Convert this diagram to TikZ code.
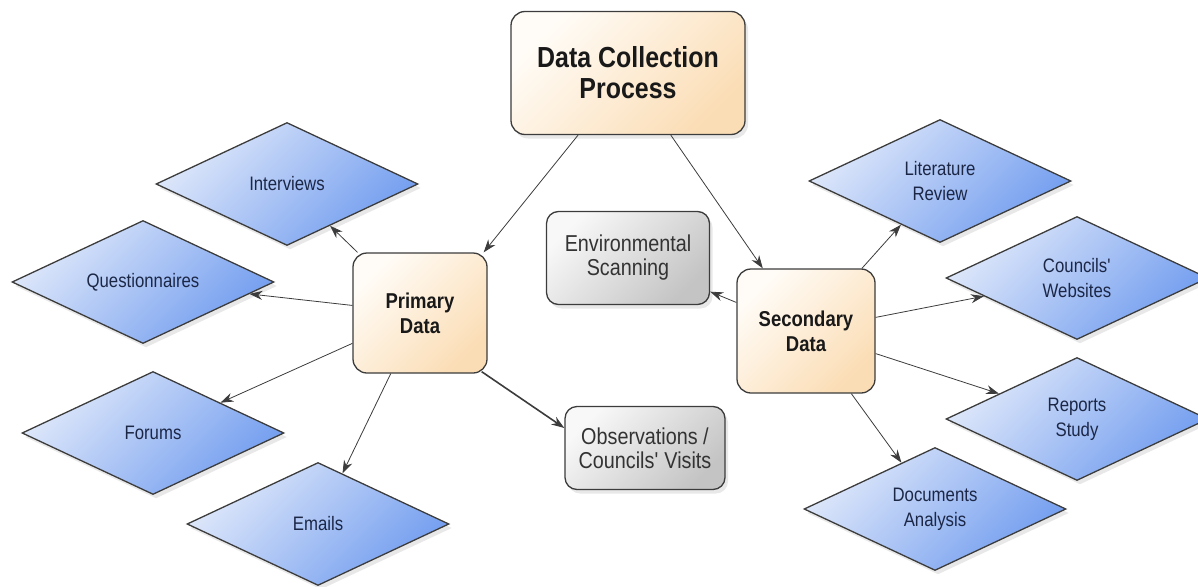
\documentclass[tikz,border=0pt]{standalone}
\usepackage{fontspec}
\setmainfont{Liberation Sans}[FakeStretch=0.86]
\usetikzlibrary{shapes.geometric,arrows.meta,shadows}

\definecolor{peachlight}{HTML}{FFFCF7}
\definecolor{peachdark}{HTML}{FBDDB5}
\definecolor{bluelight}{HTML}{DFE8FA}
\definecolor{bluedark}{HTML}{729DEF}
\definecolor{greylight}{HTML}{F8F8F8}
\definecolor{greydark}{HTML}{C4C4C4}
\definecolor{edgegrey}{HTML}{3C3C3C}
\definecolor{navytext}{HTML}{1C2746}

\tikzset{
  softshadow/.style={drop shadow={shadow xshift=3pt, shadow yshift=-4pt, opacity=0.18, fill=gray}},
  mainbox/.style={rectangle, rounded corners=14pt, draw=edgegrey, line width=1.3pt,
    top color=peachlight, bottom color=peachdark, shading angle=45,
    align=center, inner sep=0pt, text=black!90},
  greybox/.style={rectangle, rounded corners=12pt, draw=edgegrey, line width=1.3pt,
    top color=greylight, bottom color=greydark, shading angle=45, softshadow,
    align=center, inner sep=0pt, text=black!80,
    font=\fontsize{23}{24}\selectfont},
  source/.style={diamond, aspect=2.15, draw=edgegrey, line width=1.3pt,
    top color=bluelight, bottom color=bluedark, shading angle=45, softshadow,
    minimum width=262pt, minimum height=123pt, inner sep=0pt,
    align=center, text=navytext, font=\fontsize{19.5}{25}\selectfont},
  arr/.style={-{Stealth[length=13pt,width=9pt]}, draw=edgegrey, line width=0.8pt},
}

\begin{document}
\begin{tikzpicture}[x=1pt, y=-1pt]
\useasboundingbox (0,0) rectangle (1198,586);

% Main process and the two data groups
\node[mainbox, softshadow, minimum width=234pt, minimum height=123pt,
  font=\bfseries\fontsize{29}{31}\selectfont] (dcp) at (628,73) {Data Collection\\Process};
\node[mainbox, minimum width=134pt, minimum height=120pt,
  font=\bfseries\fontsize{21.5}{25}\selectfont] (pd) at (420,313) {Primary\\Data};
\node[mainbox, minimum width=138pt, minimum height=124pt,
  font=\bfseries\fontsize{21.5}{25}\selectfont] (sd) at (806,331) {Secondary\\Data};

% Grey boxes
\node[greybox, minimum width=163pt, minimum height=93pt] (env) at (628,258) {Environmental\\Scanning};
\node[greybox, minimum width=160pt, minimum height=83pt] (obs) at (645,448) {Observations /\\Councils\textquotesingle{} Visits};

% Primary sources
\node[source] (intv) at (287,184) {Interviews};
\node[source] (quest) at (143,282) {Questionnaires};
\node[source] (forum) at (153,433) {Forums};
\node[source] (mail) at (318,524) {Emails};

% Secondary sources
\node[source] (lit) at (940,181) {Literature\\Review};
\node[source] (web) at (1077,278) {Councils\textquotesingle\\Websites};
\node[source] (rep) at (1077,419) {Reports\\Study};
\node[source] (doc) at (935,509) {Documents\\Analysis};

% Connectors
\draw[arr] (dcp) -- ([xshift=-4pt]pd.north east);
\draw[arr] (dcp) -- (sd);
\draw[arr] (pd) -- (intv);
\draw[arr] (pd) -- (quest);
\draw[arr] (pd) -- (forum);
\draw[arr] (pd) -- (mail);
\draw[arr, line width=1.6pt] ([xshift=-6pt,yshift=2pt]pd.south east) -- ([yshift=20pt]obs.west);
\draw[arr] (sd) -- (env);
\draw[arr] (sd) -- (lit);
\draw[arr] (sd) -- (web);
\draw[arr] (sd) -- (rep);
\draw[arr] (sd) -- (doc);
\end{tikzpicture}
\end{document}
